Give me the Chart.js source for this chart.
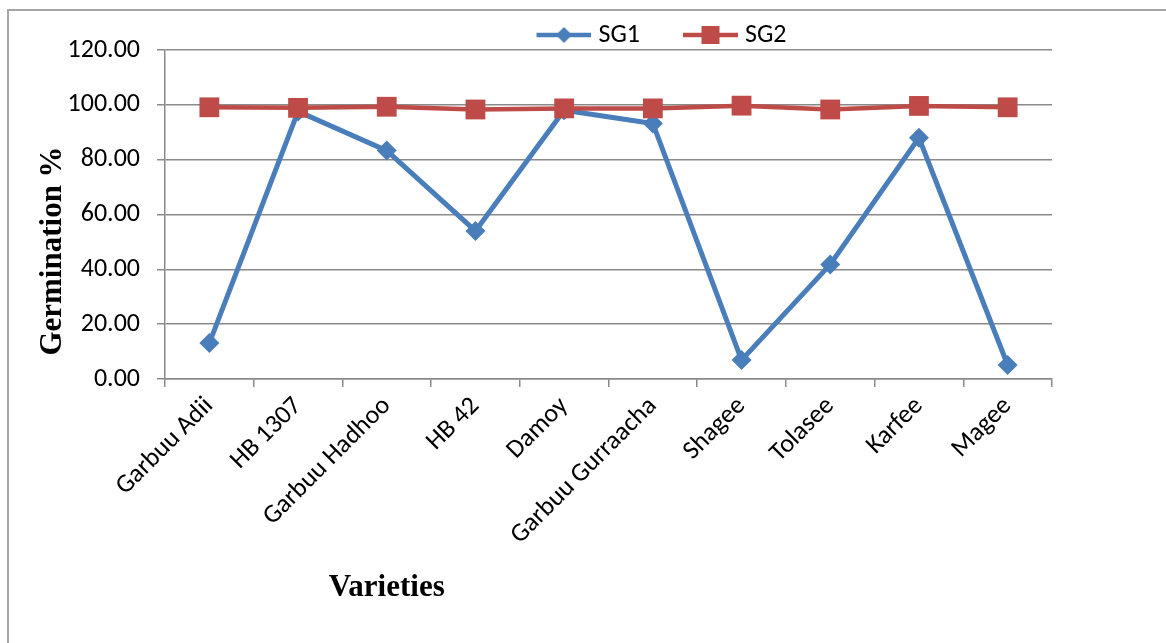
<!DOCTYPE html>
<html lang="en">
<head>
<meta charset="UTF-8">
<title>Germination % by variety</title>
<script src="https://cdn.jsdelivr.net/npm/chart.js"></script>
<style>
    body { margin: 0; background: #fff; }
    #wrap { position: relative; width: 1166px; height: 643px; overflow: hidden; background: #fff; }
    #frame {
        position: absolute; left: 7px; top: 9px; width: 1200px; height: 700px;
        border-left: 2px solid #a6a6a6; border-top: 2px solid #a6a6a6;
    }
    canvas { position: absolute; left: 0; top: 0; }
</style>
</head>
<body>
<div id="wrap">
    <div id="frame"></div>
    <canvas id="germ-chart" width="1166" height="643"></canvas>
</div>
<script>
// data
const varieties = ["Garbuu Adii", "HB 1307", "Garbuu Hadhoo", "HB 42", "Damoy",
                   "Garbuu Gurraacha", "Shagee", "Tolasee", "Karfee", "Magee"];
const sg1 = [13.1, 97.6, 83.3, 54.0, 98.0, 93.2, 6.9, 41.8, 88.0, 5.1];
const sg2 = [99.1, 98.9, 99.3, 98.3, 98.7, 98.7, 99.7, 98.3, 99.6, 99.1];
const yMin = 0, yMax = 120, yStep = 20;

const BLUE = "#4A7EBB";
const RED = "#BE4B48";
const GRID = "#8a8a8a";
const LABEL_FONT = "Calibri, Carlito, Lato, sans-serif";
const LABEL_SIZE = 26;
const TITLE_FONT = "bold 31px 'Times New Roman', 'Liberation Serif', serif";

// legend swatch: short line with the marker in the middle (like Excel)
function legendSwatch(color, shape, r) {
    const c = document.createElement("canvas");
    c.width = 94; c.height = 24;
    const g = c.getContext("2d");
    g.strokeStyle = color; g.lineWidth = 4.5;
    g.beginPath(); g.moveTo(39, 12); g.lineTo(94, 12); g.stroke();
    g.fillStyle = color;
    const cx = 66.5, cy = 12;
    g.beginPath();
    if (shape === "diamond") {
        g.moveTo(cx - r, cy); g.lineTo(cx, cy - r); g.lineTo(cx + r, cy); g.lineTo(cx, cy + r); g.closePath();
    } else {
        g.rect(cx - r, cy - r, 2 * r, 2 * r);
    }
    g.fill();
    return c;
}
const swatches = [legendSwatch(BLUE, "diamond", 8), legendSwatch(RED, "square", 9)];

const LEGEND_SHIFT_X = 119;
const LEGEND_SHIFT_Y = 8;

const tweaks = {
    id: "tweaks",
    afterLayout(chart) {
        const lg = chart.legend;
        lg.left += LEGEND_SHIFT_X; lg.right += LEGEND_SHIFT_X;
        lg.top += LEGEND_SHIFT_Y; lg.bottom += LEGEND_SHIFT_Y;
    },
    afterDraw(chart) {
        const ctx = chart.ctx;
        const area = chart.chartArea;
        ctx.save();
        ctx.fillStyle = "#000";
        ctx.font = TITLE_FONT;
        ctx.textAlign = "center";
        ctx.textBaseline = "alphabetic";
        // x axis title sits at a quarter of the plot width
        ctx.fillText("Varieties", area.left + (area.right - area.left) * 0.25, 596);
        // y axis title
        ctx.translate(61, 251);
        ctx.rotate(-Math.PI / 2);
        ctx.fillText("Germination %", 0, 0);
        ctx.restore();
    }
};

new Chart(document.getElementById("germ-chart").getContext("2d"), {
    type: "line",
    data: {
        labels: varieties,
        datasets: [
            {
                label: "SG1",
                data: sg1,
                borderColor: BLUE,
                backgroundColor: BLUE,
                borderWidth: 5,
                pointStyle: "rectRot",
                pointRadius: 10,
                pointBorderWidth: 0,
                tension: 0,
                order: 1
            },
            {
                label: "SG2",
                data: sg2,
                borderColor: RED,
                backgroundColor: RED,
                borderWidth: 4.5,
                pointStyle: "rect",
                pointRadius: 14,
                pointBorderWidth: 0,
                tension: 0,
                order: 0
            }
        ]
    },
    options: {
        responsive: false,
        animation: false,
        devicePixelRatio: 1,
        layout: { padding: { top: 4, right: 114, left: 0, bottom: 0 } },
        plugins: {
            tooltip: { enabled: false },
            legend: {
                position: "top",
                labels: {
                    usePointStyle: true,
                    pointStyleWidth: 82,
                    padding: 10,
                    color: "#000",
                    font: { family: LABEL_FONT, size: LABEL_SIZE },
                    sort: (a, b) => a.datasetIndex - b.datasetIndex,
                    generateLabels(chart) {
                        const items = Chart.defaults.plugins.legend.labels.generateLabels(chart);
                        items.forEach(it => { it.pointStyle = swatches[it.datasetIndex]; });
                        return items;
                    }
                }
            }
        },
        scales: {
            x: {
                offset: true,
                afterFit(s) { s.height = 643 - 379; },
                grid: { offset: true, drawOnChartArea: false, color: GRID, lineWidth: 1.5, tickLength: 8 },
                border: { color: GRID, width: 1.5 },
                ticks: {
                    autoSkip: false, maxRotation: 45, minRotation: 45, padding: 4,
                    color: "#000", font: { family: LABEL_FONT, size: LABEL_SIZE }
                }
            },
            y: {
                min: yMin, max: yMax,
                afterFit(s) { s.width = 165; },
                grid: { color: GRID, lineWidth: 1.5, tickLength: 8 },
                border: { color: GRID, width: 1.5 },
                ticks: {
                    stepSize: yStep, padding: 17,
                    color: "#000", font: { family: LABEL_FONT, size: LABEL_SIZE },
                    callback: v => Number(v).toFixed(2)
                }
            }
        }
    },
    plugins: [tweaks]
});
</script>
</body>
</html>
